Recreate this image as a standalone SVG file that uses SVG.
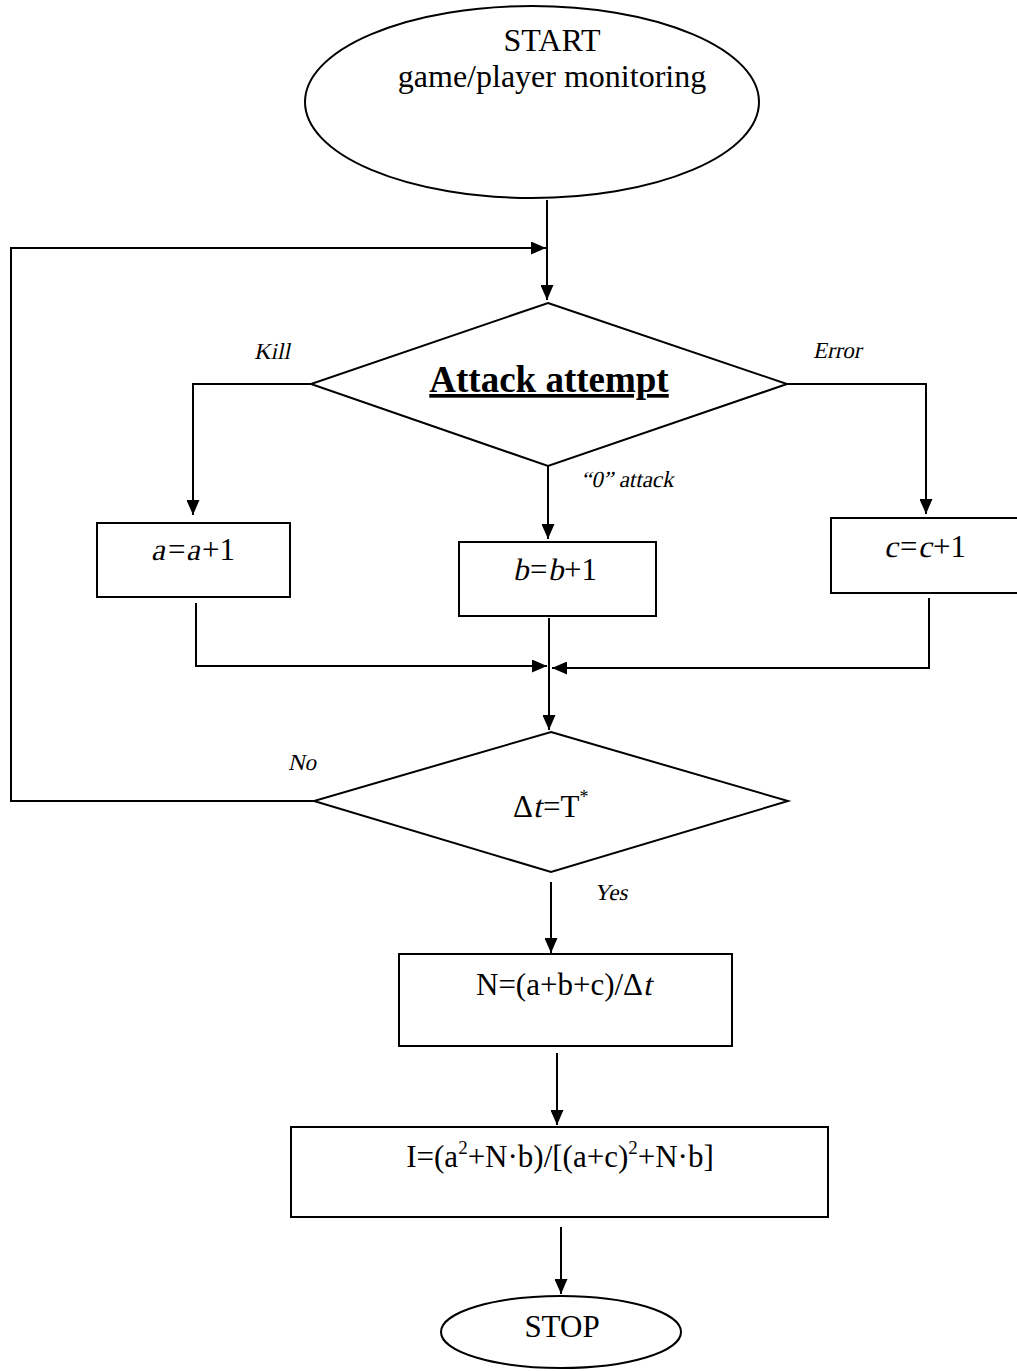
<svg xmlns="http://www.w3.org/2000/svg" width="1017" height="1371" viewBox="0 0 1017 1371">
<defs>
<marker id="arr" viewBox="0 0 15 13" refX="15" refY="6.5" markerWidth="15" markerHeight="13" markerUnits="userSpaceOnUse" orient="auto">
<path d="M0,0 L15,6.5 L0,13 Z" fill="#000"/>
</marker>
</defs>
<style>
.shape{fill:#fff;stroke:#000;stroke-width:2}
.conn{fill:none;stroke:#000;stroke-width:2}
.t{font-family:"Liberation Serif","Times New Roman",serif;fill:#000;text-anchor:middle}
.s{font-family:"Liberation Serif","Times New Roman",serif;fill:#000;text-anchor:start}
.lbl{font-family:"Liberation Serif","Times New Roman",serif;font-size:23px;fill:#000}
.m{font-size:31px}
</style>
<rect width="1017" height="1371" fill="#fff"/>
<g id="connectors">
<path class="conn" d="M547,200 L547,300" marker-end="url(#arr)"/>
<path class="conn" d="M311,384 L193,384 L193,515" marker-end="url(#arr)"/>
<path class="conn" d="M787,384 L926,384 L926,514" marker-end="url(#arr)"/>
<path class="conn" d="M548,466 L548,539" marker-end="url(#arr)"/>
<path class="conn" d="M196,603 L196,666 L547,666" marker-end="url(#arr)"/>
<path class="conn" d="M929,598 L929,668 L552,668" marker-end="url(#arr)"/>
<path class="conn" d="M549,618 L549,730" marker-end="url(#arr)"/>
<path class="conn" d="M314,801 L11,801 L11,248 L546,248" marker-end="url(#arr)"/>
<path class="conn" d="M551,882 L551,953" marker-end="url(#arr)"/>
<path class="conn" d="M557,1053 L557,1125" marker-end="url(#arr)"/>
<path class="conn" d="M561,1227 L561,1294" marker-end="url(#arr)"/>
<text class="lbl" transform="translate(254,359) skewX(-12)">Kill</text>
<text class="lbl" transform="translate(813,358) skewX(-12)">Error</text>
<text class="lbl" transform="translate(581,487) skewX(-12)">“0” attack</text>
<text class="lbl" transform="translate(288,770) skewX(-12)">No</text>
<text class="lbl" transform="translate(594,900) skewX(-12)">Yes</text>
</g>
<g id="start">
<ellipse class="shape" cx="532" cy="102" rx="227" ry="96"/>
<text class="t" x="552" y="51" font-size="32">START</text>
<text class="t" x="552" y="87" font-size="32">game/player monitoring</text>
</g>
<g id="attack">
<polygon class="shape" points="548,303 787,384 548,466 311,384"/>
<text class="t" x="549" y="392" font-size="37" font-weight="bold" text-decoration="underline">Attack attempt</text>
</g>
<g id="boxA">
<rect class="shape" x="97" y="523" width="193" height="74"/>
<text class="s m" transform="translate(151,560) skewX(-12)">a</text>
<text class="s m" x="168" y="560">=</text>
<text class="s m" transform="translate(186,560) skewX(-12)">a</text>
<text class="s m" x="202" y="560">+1</text>
</g>
<g id="boxB">
<rect class="shape" x="459" y="542" width="197" height="74"/>
<text class="s m" transform="translate(513,580) skewX(-12)">b</text>
<text class="s m" x="530" y="580">=</text>
<text class="s m" transform="translate(548,580) skewX(-12)">b</text>
<text class="s m" x="564" y="580">+1</text>
</g>
<g id="boxC">
<rect class="shape" x="831" y="518" width="187" height="75"/>
<text class="s m" transform="translate(884,557) skewX(-12)">c</text>
<text class="s m" x="900" y="557">=</text>
<text class="s m" transform="translate(918,557) skewX(-12)">c</text>
<text class="s m" x="933" y="557">+1</text>
</g>
<g id="check">
<polygon class="shape" points="551,732 788,801 551,872 314,801"/>
<text class="s m" x="513" y="817">Δ</text>
<text class="s m" transform="translate(533,817) skewX(-12)">t</text>
<text class="s m" x="543" y="817">=T<tspan font-size="18" dy="-14">*</tspan></text>
</g>
<g id="boxN">
<rect class="shape" x="399" y="954" width="333" height="92"/>
<text class="s m" x="476" y="995">N=(a+b+c)/Δ</text>
<text class="s m" transform="translate(643,995) skewX(-12)">t</text>
</g>
<g id="boxI">
<rect class="shape" x="291" y="1127" width="537" height="90"/>
<text class="t m" x="560" y="1167">I=(a<tspan font-size="19" dy="-13">2</tspan><tspan dy="13">+N·b)/[(a+c)</tspan><tspan font-size="19" dy="-13">2</tspan><tspan dy="13">+N·b]</tspan></text>
</g>
<g id="stop">
<ellipse class="shape" cx="561" cy="1332" rx="120" ry="36"/>
<text class="t m" x="562" y="1337">STOP</text>
</g>
</svg>
